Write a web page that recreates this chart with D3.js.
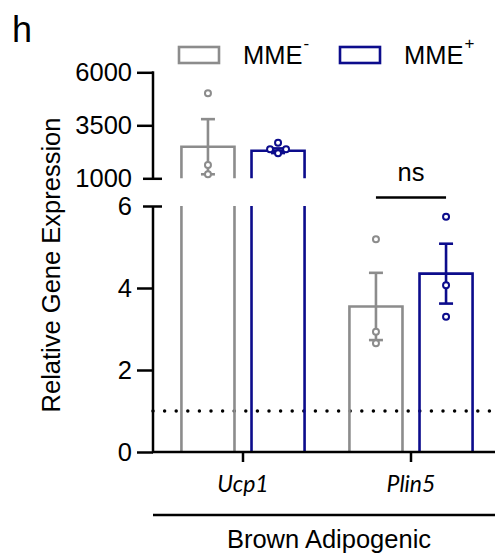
<!DOCTYPE html>
<html>
<head>
<meta charset="utf-8">
<script src="https://cdn.jsdelivr.net/npm/d3@7"></script>
<style>
  body { margin: 0; background: #fff; }
  text { font-family: "Liberation Sans", Arial, sans-serif; }
</style>
</head>
<body>
<div id="chart"></div>
<script>
const genes = ["Ucp1", "Plin5"];
const series = ["MME-", "MME+"];
const means = { "MME-": [2490, 3.55], "MME+": [2300, 4.35] };
const sems = { "MME-": [1300, 0.82], "MME+": [110, 0.73] };
const points = {
    "MME-": [[5010, 1630, 1190], [5.19, 2.93, 2.65]],
    "MME+": [[2680, 2370, 2370, 2180], [5.74, 4.07, 3.30]]
};
const lowTicks = [0, 2, 4, 6];
const highTicks = [1000, 3500, 6000];
const refLine = 1;

const width = 495, height = 554;
const colors = { "MME-": "#8c8c8c", "MME+": "#0c0c8c" };
const axisX = 153;

const svg = d3.select("#chart")
    .append("svg")
    .attr("width", width)
    .attr("height", height);

const yLow = d3.scaleLinear().domain([0, 6]).range([452, 206]);
const yHigh = d3.scaleLinear().domain([1000, 6000]).range([178.3, 72.3]);
const yOf = v => v > 6 ? yHigh(v) : yLow(v);

const x0 = d3.scaleBand().domain(genes).range([159, 495]);
const x1 = d3.scaleBand().domain(series).range([0, x0.bandwidth()])
    .paddingInner(0.243).paddingOuter(0.32);

// dotted reference line
svg.append("line")
    .attr("x1", axisX).attr("x2", width)
    .attr("y1", yLow(refLine)).attr("y2", yLow(refLine))
    .attr("stroke", "#000")
    .attr("stroke-width", 3.5)
    .attr("stroke-linecap", "round")
    .attr("stroke-dasharray", "0 11.6");

// bars (outline only, no bottom edge)
genes.forEach((g, gi) => {
    series.forEach(s => {
        const m = means[s][gi];
        const left = x0(g) + x1(s), right = left + x1.bandwidth();
        const segs = [];
        if (m > 6) {
            segs.push({ base: yLow(0), top: yLow(6), open: true });
            segs.push({ base: yHigh(1000), top: yHigh(m), open: false });
        } else {
            segs.push({ base: yLow(0), top: yLow(m), open: false });
        }
        segs.forEach(sg => {
            const p = d3.path();
            p.moveTo(left, sg.base);
            p.lineTo(left, sg.top);
            if (sg.open) {
                p.moveTo(right, sg.top);
            } else {
                p.lineTo(right, sg.top);
            }
            p.lineTo(right, sg.base);
            svg.append("path")
                .attr("d", p.toString())
                .attr("fill", "none")
                .attr("stroke", colors[s])
                .attr("stroke-width", 2.6);
        });

        // error bar
        const cx = left + x1.bandwidth() / 2;
        const eTop = yOf(m + sems[s][gi]), eBot = yOf(m - sems[s][gi]);
        const eb = svg.append("g")
            .attr("stroke", colors[s])
            .attr("stroke-width", 2.6);
        eb.append("line").attr("x1", cx).attr("x2", cx).attr("y1", eTop).attr("y2", eBot);
        [eTop, eBot].forEach(yy => {
            eb.append("line").attr("x1", cx - 7).attr("x2", cx + 7).attr("y1", yy).attr("y2", yy);
        });

        // points, dodged sideways when they collide
        const placed = [];
        const step = 8;
        points[s][gi].forEach(v => {
            const py = yOf(v);
            const offsets = [0, -step, step, -2 * step, 2 * step];
            let ox = 0;
            for (const o of offsets) {
                const hit = placed.some(q => Math.hypot(q.x - o, q.y - py) < 8);
                if (!hit) { ox = o; break; }
            }
            placed.push({ x: ox, y: py });
        });
        svg.append("g").selectAll("circle")
            .data(placed)
            .enter()
            .append("circle")
            .attr("cx", d => cx + d.x)
            .attr("cy", d => d.y)
            .attr("r", 3)
            .attr("fill", "#fff")
            .attr("stroke", colors[s])
            .attr("stroke-width", 2);
    });
});

// y axes (broken)
function styleAxis(g, breakVal) {
    g.select(".domain").remove();
    g.selectAll(".tick line").attr("stroke", "#000").attr("stroke-width", 2.5);
    g.selectAll(".tick text")
        .style("font-size", "25.5px")
        .attr("fill", "#000");
    g.selectAll(".tick").filter(d => d === breakVal).select("line")
        .attr("x1", -10).attr("x2", 9);
}

const gLow = svg.append("g")
    .attr("transform", `translate(${axisX},0)`)
    .call(d3.axisLeft(yLow).tickValues(lowTicks).tickFormat(d3.format("d"))
        .tickSize(16).tickPadding(5).tickSizeOuter(0));
styleAxis(gLow, 6);
gLow.append("line").attr("x1", 0).attr("x2", 0)
    .attr("y1", yLow(0) + 1).attr("y2", yLow(6))
    .attr("stroke", "#000").attr("stroke-width", 2.5);

const gHigh = svg.append("g")
    .attr("transform", `translate(${axisX},0)`)
    .call(d3.axisLeft(yHigh).tickValues(highTicks).tickFormat(d3.format("d"))
        .tickSize(16).tickPadding(5).tickSizeOuter(0));
styleAxis(gHigh, 1000);
gHigh.append("line").attr("x1", 0).attr("x2", 0)
    .attr("y1", yHigh(1000)).attr("y2", yHigh(6000) - 1)
    .attr("stroke", "#000").attr("stroke-width", 2.5);

// x axis
svg.append("line")
    .attr("x1", axisX - 1).attr("x2", width)
    .attr("y1", yLow(0)).attr("y2", yLow(0))
    .attr("stroke", "#000").attr("stroke-width", 2.5);

const gx = svg.append("g")
    .attr("transform", `translate(0,${yLow(0)})`)
    .call(d3.axisBottom(x0).tickSize(10).tickPadding(14).tickSizeOuter(0));
gx.select(".domain").remove();
gx.selectAll(".tick line").attr("stroke", "#000").attr("stroke-width", 2.5);
gx.selectAll(".tick text")
    .style("font-family", "Lato, 'Open Sans', sans-serif")
    .style("font-style", "italic")
    .style("font-size", "23px")
    .attr("fill", "#000");

// group line and label
svg.append("line")
    .attr("x1", axisX).attr("x2", width)
    .attr("y1", 515).attr("y2", 515)
    .attr("stroke", "#000").attr("stroke-width", 2.5);
svg.append("text")
    .attr("x", 329)
    .attr("y", 548)
    .attr("text-anchor", "middle")
    .style("font-size", "25.5px")
    .text("Brown Adipogenic");

// y label
svg.append("text")
    .attr("transform", "rotate(-90)")
    .attr("x", -265)
    .attr("y", 60)
    .attr("text-anchor", "middle")
    .style("font-size", "25.5px")
    .text("Relative Gene Expression");

// significance
const nsL = x0("Plin5") + x1("MME-") + x1.bandwidth() / 2;
const nsR = x0("Plin5") + x1("MME+") + x1.bandwidth() / 2;
svg.append("line")
    .attr("x1", nsL).attr("x2", nsR)
    .attr("y1", 197.5).attr("y2", 197.5)
    .attr("stroke", "#000").attr("stroke-width", 2.5);
svg.append("text")
    .attr("x", (nsL + nsR) / 2)
    .attr("y", 180.5)
    .attr("text-anchor", "middle")
    .style("font-size", "25.5px")
    .text("ns");

// panel letter
svg.append("text")
    .attr("x", 12)
    .attr("y", 41.5)
    .style("font-size", "36px")
    .text("h");

// legend
const legendX = [179, 340];
series.forEach((s, i) => {
    svg.append("rect")
        .attr("x", legendX[i]).attr("y", 47)
        .attr("width", 40).attr("height", 16)
        .attr("fill", "none")
        .attr("stroke", colors[s])
        .attr("stroke-width", 2.6);
    const t = svg.append("text")
        .attr("x", legendX[i] + 64)
        .attr("y", 63.5)
        .style("font-size", "25.5px");
    t.append("tspan").text("MME");
    t.append("tspan")
        .attr("dy", -15)
        .attr("dx", 1)
        .style("font-size", "17px")
        .text(s.slice(3) === "-" ? "-" : "+");
});
</script>
</body>
</html>
